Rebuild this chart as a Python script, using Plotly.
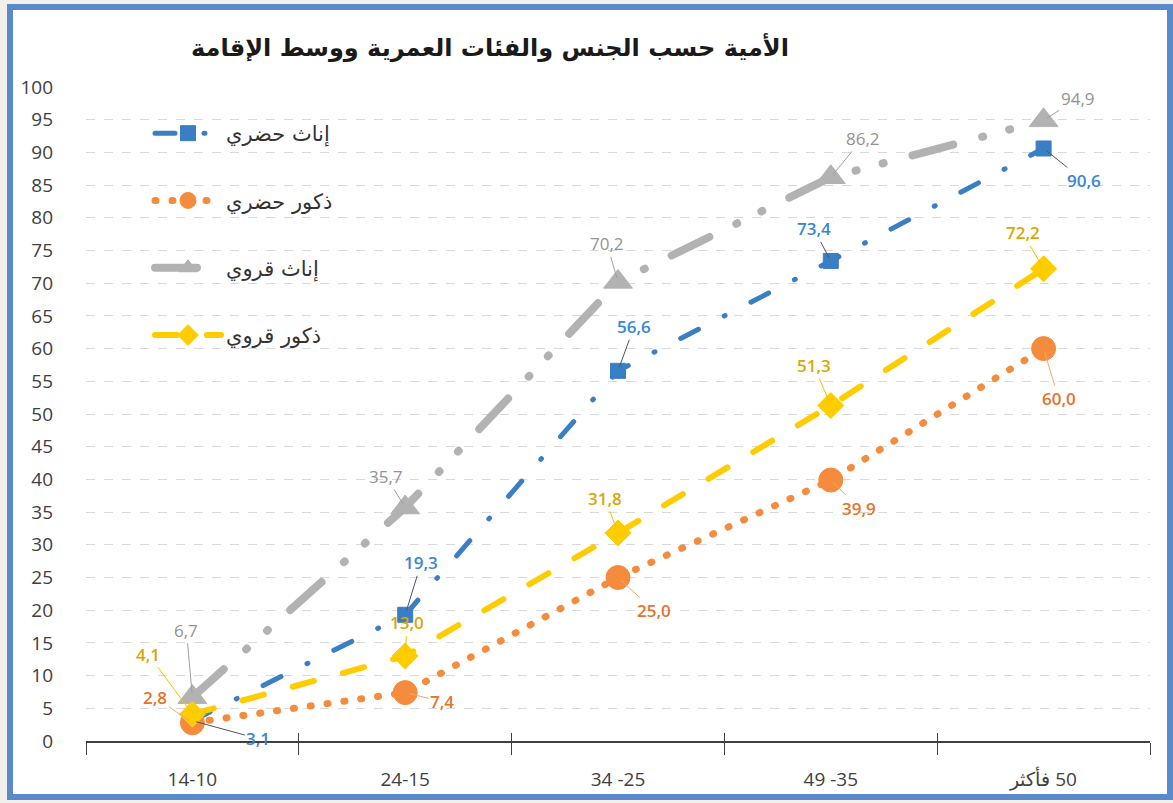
import plotly.graph_objects as go

# ---------------- data ----------------
categories = ["14-10", "24-15", "34 -25", "49 -35", "\u200f50 فأكثر"]
series_names = ["إناث حضري", "ذكور حضري", "إناث قروي", "ذكور قروي"]
urban_female = [3.1, 19.3, 56.6, 73.4, 90.6]
urban_male = [2.8, 7.4, 25.0, 39.9, 60.0]
rural_female = [6.7, 35.7, 70.2, 86.2, 94.9]
rural_male = [4.1, 13.0, 31.8, 51.3, 72.2]
y_ticks = list(range(0, 101, 5))
title_text = "الأمية حسب الجنس والفئات العمرية ووسط الإقامة"

# ---------------- styles ----------------
W, H = 1173, 803
L, R, T, B = 86, 23, 87, 62

styles = [
    dict(color="#3A7EC6", label="#3B86D2", leader="#4A5568", width=5,
         dash="20px,29px,1px,29px", symbol="square", size=15,
         offsets=[(66, 18), (16, -52), (16, -44), (-17, -32), (40, 32)]),
    dict(color="#F58B3D", label="#E5732A", leader="#F5A66E", width=7,
         dash="1px,16px", symbol="circle", size=24,
         offsets=[(-37, -25), (37, 9), (36, 33), (28, 28), (15, 50)]),
    dict(color="#B2B2B2", label="#939393", leader="#A0A0A0", width=8,
         dash="42px,30px,1px,27px,1px,30px", symbol="triangle-up", size=25,
         offsets=[(-6, -67), (-19, -31), (-11, -38), (32, -39), (34, -22)]),
    dict(color="#FFCC00", label="#D9A800", leader="#F2C200", width=6,
         dash="22px,30px", symbol="diamond", size=20,
         offsets=[(-44, -60), (2, -33), (-13, -35), (-17, -40), (-21, -36)]),
]
all_values = [urban_female, urban_male, rural_female, rural_male]

fig = go.Figure()
annotations = []
for i, (name, vals, st) in enumerate(zip(series_names, all_values, styles)):
    fig.add_trace(go.Scatter(
        x=categories, y=vals, name=name, mode="lines+markers",
        legendgroup=f"g{i}",
        line=dict(color=st["color"], width=st["width"], dash=st["dash"]),
        marker=dict(color=st["color"], symbol=st["symbol"], size=st["size"],
                    line=dict(color=st["color"], width=1)),
        hoverinfo="x+y+name",
    ))
    for c, v, (dx, dy) in zip(categories, vals, st["offsets"]):
        annotations.append(dict(
            x=c, y=v, xref="x", yref="y", ax=dx, ay=dy,
            text=f"{v:.1f}".replace(".", ","),
            showarrow=True, arrowhead=0, arrowwidth=1, arrowcolor=st["leader"],
            standoff=4,
            font=dict(family="Open Sans, DejaVu Sans", size=17, color=st["label"],
                      weight=600 if i != 2 else 400),
        ))

# dummy trace for overlay axis (inner tick marks)
fig.add_trace(go.Scatter(x=[None], y=[None], xaxis="x2", showlegend=False,
                         hoverinfo="skip", mode="markers"))

pw = W - L - R
ph = H - T - B
shapes = [dict(type="rect", xref="paper", yref="paper",
               x0=-(L - 10) / pw, x1=1 + (R - 3) / pw,
               y0=-(B - 6) / ph, y1=1 + (T - 7) / ph,
               line=dict(color="#5A8ACB", width=6), fillcolor="white",
               layer="below")]

fig.update_layout(
    width=W, height=H,
    margin=dict(l=L, r=R, t=T, b=B),
    paper_bgcolor="#F2F0EA", plot_bgcolor="rgba(0,0,0,0)",
    title=dict(text=title_text, x=490 / W, xanchor="center",
               y=1 - 48 / H, yanchor="middle",
               font=dict(family="DejaVu Sans", size=24, color="#1a1a1a", weight="bold")),
    showlegend=True,
    legend=dict(x=(150 - L) / pw, y=(H - B - 113) / ph, xanchor="left", yanchor="top",
                bgcolor="rgba(0,0,0,0)", traceorder="grouped", tracegroupgap=37,
                itemwidth=66,
                font=dict(family="DejaVu Sans", size=21, color="#333333")),
    xaxis=dict(type="category", categoryorder="array", categoryarray=categories,
               range=[-0.5, len(categories) - 0.5],
               tickson="boundaries", ticks="outside", ticklen=12, tickwidth=1.2,
               tickcolor="#404040", showline=True, linecolor="#404040", linewidth=1.5,
               showgrid=False, zeroline=False, ticklabelstandoff=20,
               tickfont=dict(family="Open Sans", size=19, color="#404040")),
    xaxis2=dict(overlaying="x", anchor="y", side="bottom", range=[-0.5, len(categories) - 0.5],
                tickmode="array", tickvals=[k - 0.5 for k in range(len(categories) + 1)],
                ticks="inside", ticklen=8, tickwidth=1.2, tickcolor="#404040",
                showticklabels=False, showgrid=False, showline=False, zeroline=False),
    yaxis=dict(range=[0, 100], tickmode="array", tickvals=y_ticks,
               showgrid=True, gridcolor="#D9D9D9", griddash="dash", gridwidth=1,
               zeroline=False, showline=False, ticks="", ticklabelstandoff=32,
               tickfont=dict(family="Open Sans", size=19, color="#404040")),
    annotations=annotations,
    shapes=shapes,
)

post = """
document.body.style.margin='0';
document.body.style.padding='0';
var gd = document.getElementById('{plot_id}');
function fixCaps(){
  gd.querySelectorAll('path.js-line').forEach(function(p){
    p.style.strokeLinecap='round'; p.style.strokeLinejoin='round';
  });
}
fixCaps();
gd.on('plotly_afterplot', fixCaps);
"""
fig.write_html("out.html", post_script=post, config={"displayModeBar": False})
